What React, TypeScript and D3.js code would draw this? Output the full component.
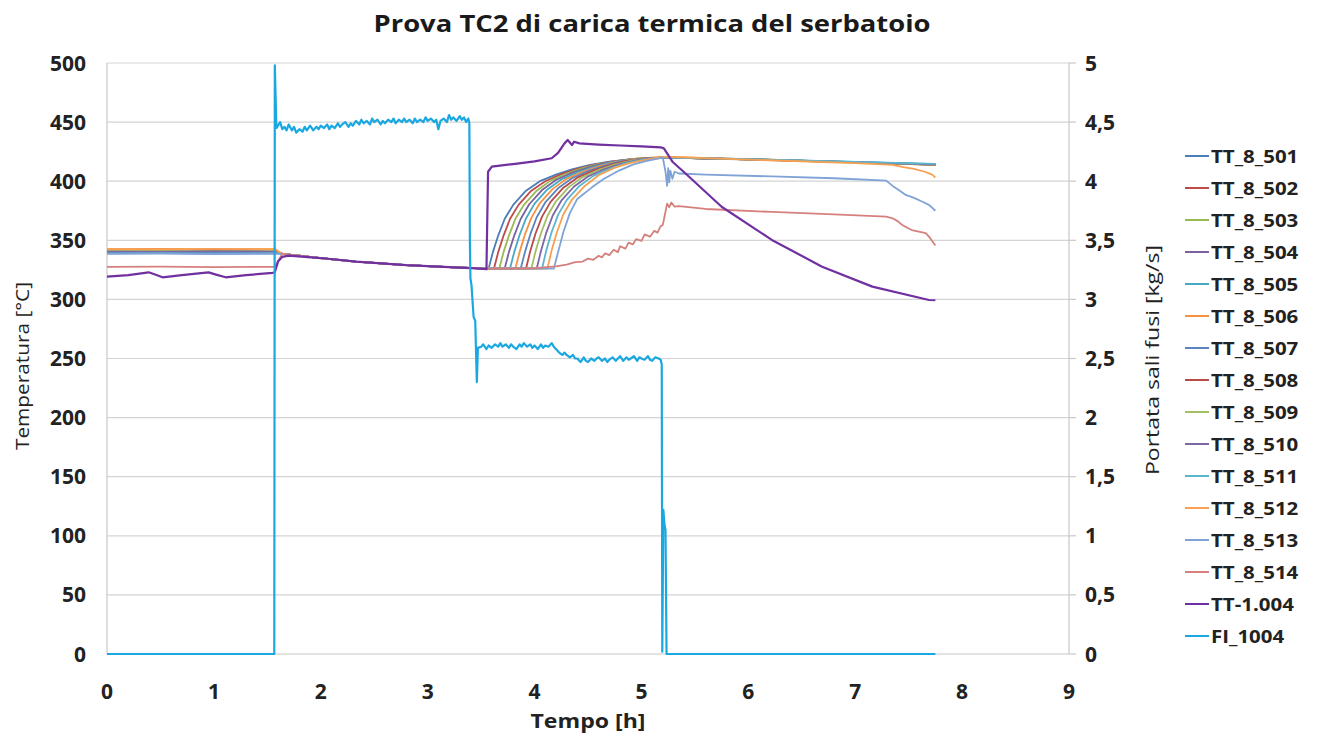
import React from "react";
import * as d3 from "d3";

type P = [number, number];

// ---- axis ticks ----
const X_TICKS = [0, 1, 2, 3, 4, 5, 6, 7, 8, 9];
const Y_LEFT_TICKS = [0, 50, 100, 150, 200, 250, 300, 350, 400, 450, 500];
const Y_RIGHT_TICKS = [0, 0.5, 1, 1.5, 2, 2.5, 3, 3.5, 4, 4.5, 5];

// shared cooling segment (all TT_8 probes overlap here)
const MID: P[] = [[1.64, 338.5], [2.0, 335], [2.33, 332], [2.8, 329], [3.2, 327.3], [3.5, 326.3]];
const TAIL: P[] = [[5.25, 420], [6.0, 418.5], [7.0, 416], [7.75, 414]];

const TT_8_501: P[] = [[0, 341], [0.5, 341.3], [1.0, 340.8], [1.57, 341.2], ...MID,
  [3.57, 326], [3.61, 340], [3.66, 354], [3.72, 368], [3.8, 380], [3.92, 392], [4.05, 400], [4.2, 405.5], [4.35, 410], [4.51, 413.5], [4.7, 416.5], [4.85, 418], [5.0, 419.3], [5.2, 420],
  [5.25, 420], [6.0, 418.6], [7.0, 416.2], [7.75, 414.3]];
const TT_8_502: P[] = [[0, 341.5], [0.5, 341.2], [1.0, 341.6], [1.57, 341.4], ...MID,
  [3.62, 326], [3.66, 340], [3.71, 354], [3.77, 368], [3.85, 380], [3.97, 392], [4.1, 400], [4.25, 406], [4.4, 410.5], [4.56, 414], [4.75, 417], [4.9, 418.5], [5.2, 420], ...TAIL];
const TT_8_503: P[] = [[0, 341], [0.5, 340.7], [1.0, 341.2], [1.57, 341], ...MID,
  [3.67, 326], [3.71, 340], [3.76, 354], [3.82, 368], [3.9, 380], [4.02, 392], [4.15, 400.5], [4.3, 406.5], [4.45, 411], [4.6, 414.5], [4.8, 417.5], [4.95, 419], [5.2, 420],
  [5.25, 420], [6.0, 418.3], [7.0, 415.8], [7.75, 413.8]];
const TT_8_504: P[] = [[0, 340.5], [0.5, 340.8], [1.0, 340.3], [1.57, 340.6], ...MID,
  [3.72, 326], [3.76, 340], [3.81, 354], [3.87, 368], [3.95, 380.5], [4.07, 392.5], [4.2, 401], [4.35, 407], [4.5, 411.5], [4.65, 415], [4.85, 418], [5.2, 420], ...TAIL];
const TT_8_505: P[] = [[0, 341], [0.5, 341.2], [1.0, 340.9], [1.57, 341.1], ...MID,
  [3.77, 326], [3.81, 340], [3.86, 354.5], [3.92, 368.5], [4.0, 381], [4.12, 393], [4.25, 401.5], [4.4, 407.5], [4.55, 412], [4.7, 415.5], [4.9, 418.5], [5.2, 420],
  [5.25, 420], [6.0, 418.6], [7.0, 416.3], [7.75, 414.5]];
const TT_8_506: P[] = [[0, 342.5], [0.5, 342.7], [1.0, 342.3], [1.57, 342.6], ...MID,
  [3.82, 326], [3.86, 340], [3.91, 355], [3.97, 369], [4.05, 381.5], [4.17, 393.5], [4.3, 402], [4.45, 408], [4.6, 412.5], [4.75, 416], [4.95, 419], [5.2, 420.5],
  [5.25, 420.5], [6.0, 418.7], [7.0, 416], [7.75, 413.8]];
const TT_8_507: P[] = [[0, 340], [0.5, 340.2], [1.0, 339.8], [1.57, 340.1], ...MID,
  [3.87, 326], [3.91, 340], [3.96, 355], [4.02, 369.5], [4.1, 382], [4.22, 394], [4.35, 402.5], [4.5, 408.5], [4.65, 413], [4.8, 416.5], [5.0, 419], [5.2, 420], ...TAIL];
const TT_8_508: P[] = [[0, 341.5], [0.5, 341.3], [1.0, 341.7], [1.57, 341.4], ...MID,
  [3.92, 326], [3.96, 341], [4.01, 356], [4.07, 370], [4.15, 382.5], [4.27, 394.5], [4.4, 403], [4.55, 409], [4.7, 413.5], [4.85, 417], [5.05, 419.3], [5.2, 420],
  [5.25, 420], [6.0, 418.4], [7.0, 415.9], [7.75, 414]];
const TT_8_509: P[] = [[0, 341], [0.5, 341.3], [1.0, 340.8], [1.57, 341], ...MID,
  [3.97, 326], [4.01, 341], [4.06, 356], [4.12, 370.5], [4.2, 383], [4.32, 395], [4.45, 403.5], [4.6, 409.5], [4.75, 414], [4.9, 417.3], [5.08, 419.4], [5.2, 420], ...TAIL];
const TT_8_510: P[] = [[0, 340.5], [0.5, 340.3], [1.0, 340.7], [1.57, 340.5], ...MID,
  [4.02, 326], [4.06, 341], [4.11, 356.5], [4.17, 371], [4.25, 383.5], [4.37, 395.5], [4.5, 404], [4.65, 410], [4.8, 414.5], [4.95, 417.6], [5.1, 419.5], [5.2, 420],
  [5.25, 420], [6.0, 418.5], [7.0, 416.1], [7.75, 414.2]];
const TT_8_511: P[] = [[0, 339], [0.5, 339.2], [1.0, 338.8], [1.57, 339.1], ...MID,
  [4.07, 326], [4.11, 341.5], [4.16, 357], [4.22, 371.5], [4.3, 384], [4.42, 396], [4.55, 404.5], [4.7, 410.5], [4.85, 415], [5.0, 418], [5.2, 420],
  [5.25, 420], [6.0, 418.7], [7.0, 416.4], [7.75, 414.6]];
const TT_8_512: P[] = [[0, 342.5], [0.5, 342.3], [1.0, 342.7], [1.57, 342.4], ...MID,
  [4.12, 326], [4.16, 341.5], [4.21, 357], [4.27, 372], [4.35, 384.5], [4.47, 396], [4.6, 405], [4.75, 411.5], [4.9, 415.5], [5.05, 418.3], [5.2, 420.5],
  [5.25, 420.5], [6.0, 418.3], [7.0, 415.3], [7.35, 413.8], [7.45, 412], [7.55, 410.5], [7.65, 408], [7.72, 405.5], [7.75, 403]];
const TT_8_513: P[] = [[0, 338.5], [0.5, 338.7], [1.0, 338.3], [1.57, 338.5], ...MID,
  [4.18, 326], [4.22, 340], [4.27, 357], [4.33, 373], [4.4, 385], [4.54, 395], [4.65, 402], [4.79, 409], [4.92, 414], [5.04, 417], [5.2, 420],
  [5.225, 408], [5.24, 396], [5.25, 411], [5.26, 399], [5.27, 409], [5.29, 402], [5.31, 408], [5.35, 406.5], [5.6, 405.5], [6.22, 404], [6.8, 402.5], [7.29, 400.5],
  [7.35, 396], [7.4, 393], [7.47, 388.5], [7.52, 387], [7.56, 385.5], [7.62, 383], [7.69, 380], [7.75, 375]];
const TT_8_514: P[] = [[0, 327.5], [0.5, 327.7], [1.0, 327.3], [1.57, 327.6], ...MID,
  [3.57, 326], [3.8, 326], [4.0, 326.4], [4.2, 328], [4.3, 329.5], [4.38, 331.5], [4.45, 332], [4.5, 334.5], [4.55, 333.5], [4.6, 337], [4.63, 335.5], [4.66, 339],
  [4.7, 337.5], [4.74, 342], [4.78, 340], [4.8, 345], [4.85, 343], [4.88, 348], [4.92, 346.5], [4.95, 351], [5.0, 349.5], [5.03, 355], [5.08, 353], [5.12, 358],
  [5.15, 356.5], [5.18, 362], [5.2, 363], [5.22, 372], [5.24, 381], [5.26, 378], [5.28, 382], [5.31, 378.5], [5.35, 379], [5.6, 376.5], [6.22, 374], [6.8, 372], [7.29, 370],
  [7.35, 368.6], [7.4, 366], [7.44, 363], [7.5, 360], [7.53, 358.7], [7.66, 356], [7.7, 352], [7.75, 345.6]];
const TT_1_004: P[] = [[0, 319.2], [0.2, 320.5], [0.39, 322.9], [0.45, 321], [0.52, 318.7], [0.7, 320.5], [0.95, 322.9], [1.02, 321], [1.11, 318.7],
  [1.3, 320.5], [1.55, 322.5], [1.57, 323], [1.6, 332], [1.64, 336], [1.7, 337], [2.0, 335], [2.33, 332], [2.8, 329], [3.2, 327.3], [3.5, 326], [3.55, 325.5],
  [3.565, 408], [3.6, 412.3], [3.8, 414.5], [4.0, 416.8], [4.16, 419.4], [4.22, 424], [4.28, 432], [4.31, 434.9], [4.35, 430.6], [4.37, 433.4], [4.42, 432],
  [4.6, 431], [4.8, 430.2], [5.0, 429.5], [5.18, 428.7], [5.21, 427.8], [5.29, 416.5], [5.41, 406.7], [5.75, 378.4], [6.22, 350.3], [6.69, 327.7], [7.16, 310.8],
  [7.69, 299.5], [7.75, 299.3]];

// flow rate, kg/s (right axis)
const FI_1004: P[] = [[0, 0], [1.565, 0], [1.57, 4.98], [1.585, 4.45],
  [1.6, 4.47], [1.62, 4.5], [1.64, 4.44], [1.66, 4.46], [1.68, 4.43], [1.7, 4.48], [1.73, 4.43], [1.75, 4.46], [1.77, 4.41], [1.8, 4.44], [1.83, 4.42],
  [1.85, 4.46], [1.87, 4.43], [1.9, 4.47], [1.93, 4.43], [1.96, 4.46], [1.98, 4.44], [2.0, 4.47], [2.03, 4.45], [2.06, 4.48], [2.08, 4.44], [2.1, 4.47],
  [2.13, 4.45], [2.16, 4.49], [2.18, 4.46], [2.2, 4.48], [2.23, 4.5], [2.26, 4.46], [2.28, 4.49], [2.3, 4.47], [2.33, 4.51], [2.36, 4.48], [2.38, 4.52],
  [2.4, 4.49], [2.43, 4.51], [2.46, 4.48], [2.48, 4.53], [2.5, 4.5], [2.53, 4.52], [2.56, 4.48], [2.58, 4.51], [2.6, 4.49], [2.63, 4.52], [2.66, 4.5],
  [2.68, 4.53], [2.7, 4.49], [2.73, 4.52], [2.76, 4.5], [2.78, 4.53], [2.8, 4.5], [2.83, 4.52], [2.86, 4.49], [2.88, 4.53], [2.9, 4.5], [2.93, 4.52],
  [2.96, 4.5], [2.98, 4.54], [3.0, 4.51], [3.03, 4.53], [3.06, 4.5], [3.08, 4.52], [3.1, 4.44], [3.12, 4.51], [3.15, 4.53], [3.18, 4.5], [3.2, 4.56],
  [3.22, 4.52], [3.24, 4.54], [3.27, 4.51], [3.3, 4.55], [3.32, 4.52], [3.34, 4.54], [3.36, 4.5], [3.38, 4.53], [3.39, 4.49], [3.395, 3.5], [3.4, 3.18],
  [3.41, 3.12], [3.43, 2.85], [3.445, 2.82], [3.46, 2.3], [3.47, 2.59], [3.5, 2.6], [3.52, 2.62], [3.55, 2.58], [3.57, 2.61], [3.6, 2.59], [3.63, 2.62],
  [3.66, 2.6], [3.68, 2.63], [3.7, 2.6], [3.73, 2.62], [3.76, 2.59], [3.78, 2.62], [3.8, 2.6], [3.83, 2.58], [3.86, 2.62], [3.88, 2.6], [3.9, 2.63],
  [3.93, 2.6], [3.96, 2.62], [3.98, 2.59], [4.0, 2.61], [4.03, 2.58], [4.06, 2.62], [4.08, 2.59], [4.1, 2.61], [4.13, 2.6], [4.16, 2.63], [4.18, 2.6],
  [4.2, 2.58], [4.23, 2.55], [4.26, 2.53], [4.28, 2.55], [4.3, 2.53], [4.33, 2.51], [4.36, 2.53], [4.38, 2.5], [4.4, 2.5], [4.43, 2.47], [4.46, 2.51],
  [4.48, 2.48], [4.5, 2.47], [4.53, 2.5], [4.56, 2.48], [4.58, 2.5], [4.6, 2.51], [4.63, 2.48], [4.66, 2.5], [4.68, 2.47], [4.7, 2.49], [4.73, 2.51],
  [4.76, 2.48], [4.78, 2.5], [4.8, 2.52], [4.83, 2.48], [4.86, 2.51], [4.88, 2.49], [4.9, 2.5], [4.93, 2.52], [4.96, 2.48], [4.98, 2.51], [5.0, 2.5],
  [5.03, 2.49], [5.06, 2.52], [5.08, 2.49], [5.1, 2.48], [5.13, 2.51], [5.16, 2.5], [5.18, 2.49], [5.19, 2.45], [5.195, 0.02], [5.205, 1.22], [5.215, 1.1],
  [5.225, 1.05], [5.235, 0], [7.75, 0]];

const SERIES_NAMES = ["TT_8_501", "TT_8_502", "TT_8_503", "TT_8_504", "TT_8_505", "TT_8_506", "TT_8_507", "TT_8_508", "TT_8_509", "TT_8_510", "TT_8_511", "TT_8_512", "TT_8_513", "TT_8_514", "TT-1.004", "FI_1004"];
const SERIES_DATA: P[][] = [TT_8_501, TT_8_502, TT_8_503, TT_8_504, TT_8_505, TT_8_506, TT_8_507, TT_8_508, TT_8_509, TT_8_510, TT_8_511, TT_8_512, TT_8_513, TT_8_514, TT_1_004, FI_1004];
const SERIES_COLORS = ["#4A7EBB", "#BE4B48", "#98B954", "#7D60A0", "#46AAC5", "#F69240", "#5B84C0", "#B84A47", "#A3BF63", "#7E66A6", "#5AB6CF", "#F7A052", "#7FA3D6", "#D6807E", "#7030A0", "#1BA8E0"];

const FONT = "'Open Sans', 'Liberation Sans', sans-serif";

export default function App() {
  const W = 1317, H = 736;
  const x = d3.scaleLinear().domain([0, 9]).range([107, 1069]);
  const yL = d3.scaleLinear().domain([0, 500]).range([654, 63]);
  const yR = d3.scaleLinear().domain([0, 5]).range([654, 63]);
  const lineL = d3.line<P>().x(d => x(d[0])).y(d => yL(d[1]));
  const lineR = d3.line<P>().x(d => x(d[0])).y(d => yR(d[1]));

  return (
    <svg width={W} height={H} style={{ display: "block", position: "absolute", left: 0, top: 0, background: "#fff" }} fontFamily={FONT}>
      <rect x={0} y={0} width={W} height={H} fill="#fff" />
      <text x={652} y={32} textAnchor="middle" fontSize={24} fontWeight={700} fill="#1a1a1a" textLength={557} lengthAdjust="spacingAndGlyphs">
        Prova TC2 di carica termica del serbatoio
      </text>
      {/* gridlines */}
      {Y_LEFT_TICKS.filter(v => v > 0).map(v => (
        <line key={"g" + v} x1={x(0)} x2={x(9)} y1={yL(v)} y2={yL(v)} stroke="#D4D4D4" strokeWidth={1.2} />
      ))}
      {/* axes */}
      <line x1={x(0)} x2={x(0)} y1={yL(0)} y2={yL(500)} stroke="#C8C8C8" strokeWidth={1.2} />
      <line x1={x(9)} x2={x(9)} y1={yL(0)} y2={yL(500)} stroke="#C8C8C8" strokeWidth={1.2} />
      <line x1={x(0)} x2={x(9)} y1={yL(0)} y2={yL(0)} stroke="#C8C8C8" strokeWidth={1.2} />
      {Y_RIGHT_TICKS.map(v => (
        <line key={"rt" + v} x1={x(9)} x2={x(9) + 7} y1={yR(v)} y2={yR(v)} stroke="#C8C8C8" strokeWidth={1.2} />
      ))}
      {/* tick labels */}
      {Y_LEFT_TICKS.map(v => (
        <text key={"yl" + v} x={86} y={yL(v) + 7.5} textAnchor="end" fontSize={21} fontWeight={700} fill="#222">{v}</text>
      ))}
      {Y_RIGHT_TICKS.map(v => (
        <text key={"yr" + v} x={1085} y={yR(v) + 7.5} textAnchor="start" fontSize={21} fontWeight={700} fill="#222">{String(v).replace(".", ",")}</text>
      ))}
      {X_TICKS.map(v => (
        <text key={"xt" + v} x={x(v)} y={699} textAnchor="middle" fontSize={21} fontWeight={700} fill="#222">{v}</text>
      ))}
      <text x={588} y={728} textAnchor="middle" fontSize={20} fontWeight={700} fill="#222" textLength={115} lengthAdjust="spacingAndGlyphs">Tempo [h]</text>
      <text transform={`translate(29, 366) rotate(-90)`} textAnchor="middle" fontSize={19} fill="#222" textLength={168} lengthAdjust="spacingAndGlyphs">Temperatura [°C]</text>
      <text transform={`translate(1159, 360) rotate(-90)`} textAnchor="middle" fontSize={19} fill="#222" textLength={230} lengthAdjust="spacingAndGlyphs">Portata sali fusi [kg/s]</text>
      {/* series */}
      {SERIES_DATA.map((d, i) => (
        <path key={"s" + i} d={(i === 15 ? lineR(d) : lineL(d)) || ""} fill="none" stroke={SERIES_COLORS[i]}
          strokeWidth={i >= 14 ? 2.2 : 1.8} strokeLinejoin="round" />
      ))}
      {/* legend */}
      {SERIES_NAMES.map((n, i) => (
        <g key={"lg" + i} transform={`translate(1185, ${156 + i * 32})`}>
          <line x1={0} x2={24} y1={0} y2={0} stroke={SERIES_COLORS[i]} strokeWidth={2} />
          <text transform="translate(26, 6.5) scale(1.17, 1)" fontSize={17.5} fontWeight={700} fill="#222">{n}</text>
        </g>
      ))}
    </svg>
  );
}
